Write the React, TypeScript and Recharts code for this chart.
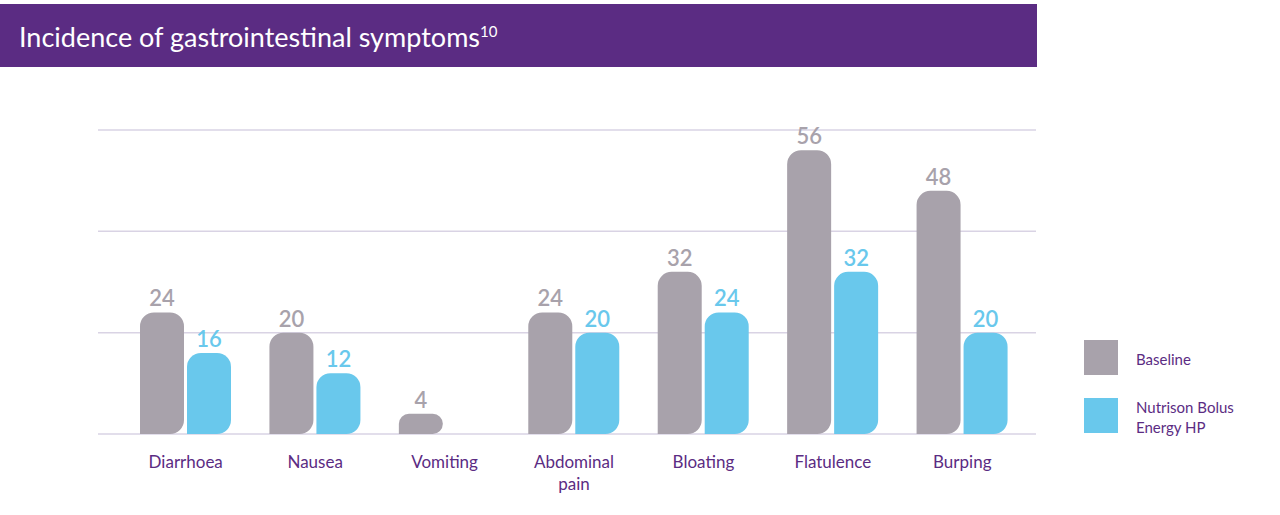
import { BarChart, Bar, XAxis, YAxis, CartesianGrid, LabelList } from 'recharts';

const symptoms = ['Diarrhoea', 'Nausea', 'Vomiting', 'Abdominal pain', 'Bloating', 'Flatulence', 'Burping'];
const baseline = [24, 20, 4, 24, 32, 56, 48];
const nutrison: (number | null)[] = [16, 12, null, 20, 24, 32, 20];
const yTicks = [0, 20, 40, 60];

const data = symptoms.map((name, i) => ({ name, baseline: baseline[i], nutrison: nutrison[i] }));

const GREY = '#a8a2ab';
const BLUE = '#69c8ec';
const PURPLE = '#5b2c83';
const FONT = 'Lato, "Open Sans", sans-serif';

const Tick = (props: any) => {
  const { x, y, payload } = props;
  const label: string = payload.value;
  const lines = label.length > 10 ? label.split(' ') : [label];
  return (
    <text x={x} y={y} textAnchor="middle" fill={PURPLE} fontSize={17} fontFamily={FONT}>
      {lines.map((l, i) => (
        <tspan key={i} x={x} dy={i === 0 ? 26 : 22}>{l}</tspan>
      ))}
    </text>
  );
};

const App = () => {
  return (
    <div style={{ position: 'absolute', left: 0, top: 0, width: 1280, height: 515, background: '#fff', fontFamily: FONT }}>
      <div style={{ position: 'absolute', left: 0, top: 4, width: 1037, height: 63, background: PURPLE }}>
        <div style={{ position: 'absolute', left: 19, top: 16, color: '#fff', fontSize: 27, fontWeight: 400, whiteSpace: 'nowrap' }}>
          Incidence of gastrointestinal symptoms<sup style={{ fontSize: 15 }}>10</sup>
        </div>
      </div>

      <div style={{ position: 'absolute', left: 0, top: 0 }}>
        <BarChart
          width={1280}
          height={515}
          data={data}
          margin={{ top: 130, right: 244, bottom: 21, left: 98 }}
          barSize={44}
          barGap={3}
        >
          <CartesianGrid vertical={false} stroke="#d9d3e4" strokeWidth={1.5} />
          <YAxis hide domain={[0, 60]} ticks={yTicks} />
          <XAxis
            dataKey="name"
            axisLine={false}
            tickLine={false}
            height={60}
            padding={{ left: 23, right: 9 }}
            interval={0}
            tick={<Tick />}
          />
          <Bar dataKey="baseline" fill={GREY} radius={[14, 14, 14, 0]} isAnimationActive={false}>
            <LabelList dataKey="baseline" position="top" offset={6} fill={GREY} fontSize={22} fontWeight={600} fontFamily={FONT} />
          </Bar>
          <Bar dataKey="nutrison" fill={BLUE} radius={[14, 14, 14, 0]} isAnimationActive={false}>
            <LabelList dataKey="nutrison" position="top" offset={6} fill={BLUE} fontSize={22} fontWeight={600} fontFamily={FONT} />
          </Bar>
        </BarChart>
      </div>

      <div style={{ position: 'absolute', left: 1084, top: 340, width: 34, height: 35, background: GREY }} />
      <div style={{ position: 'absolute', left: 1136, top: 350, color: PURPLE, fontSize: 15 }}>Baseline</div>
      <div style={{ position: 'absolute', left: 1084, top: 398, width: 34, height: 35, background: BLUE }} />
      <div style={{ position: 'absolute', left: 1136, top: 397, color: PURPLE, fontSize: 15, lineHeight: '20px' }}>
        Nutrison Bolus
        <br />
        Energy HP
      </div>
    </div>
  );
};

export default App;
